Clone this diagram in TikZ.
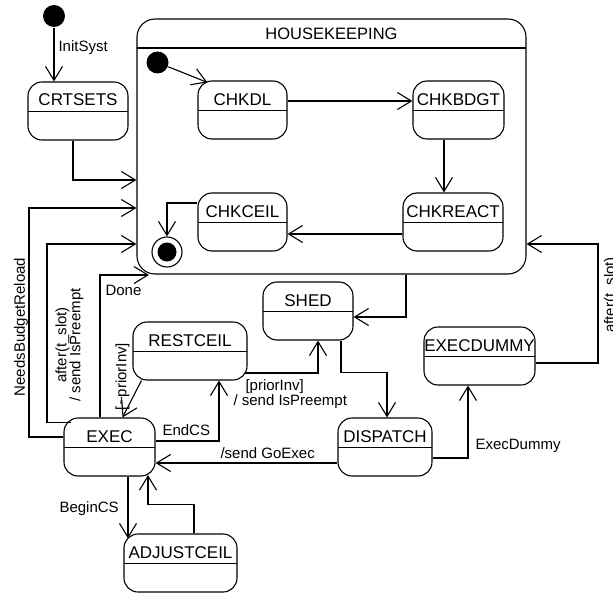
\documentclass[tikz,border=0pt]{standalone}
\usepackage{fontspec}
\setmainfont{Liberation Sans}
\usetikzlibrary{arrows.meta}
\begin{document}
\begin{tikzpicture}[x=1pt,y=-1pt,line width=1.1pt,
  arr/.style={-{Straight Barb[length=14pt,width=17pt]}},
  statefont/.style={font=\fontsize{17}{18}\selectfont},
  state/.style={draw,statefont,rounded corners=14pt,inner sep=0pt,
    minimum height=58pt,text height=24pt,text depth=34pt,
    path picture={\draw[line width=1.1pt]
      ([yshift=-29.5pt]path picture bounding box.north west) --
      ([yshift=-29.5pt]path picture bounding box.north east);}},
  hkbox/.style={draw,font=\fontsize{16.5}{18}\selectfont,rounded corners=18pt,inner sep=0pt,
    minimum width=389pt,minimum height=255pt,text height=20.5pt,text depth=234.5pt,
    path picture={\draw[line width=1.1pt]
      ([yshift=-29pt]path picture bounding box.north west) --
      ([yshift=-29pt]path picture bounding box.north east);}},
  initstate/.style={circle,fill=black,minimum size=22pt,inner sep=0pt},
  finalstate/.style={circle,draw,minimum size=30pt,inner sep=0pt,
    path picture={\fill (path picture bounding box.center) circle (9.5pt);}},
  lbl/.style={font=\fontsize{15}{14}\selectfont,inner sep=0pt}]
\useasboundingbox (0,0) rectangle (613,594);

% states
\node[initstate] (init1) at (54,16) {};
\node[state,minimum width=100pt] (crtsets) at (78,111) {CRTSETS};
\node[hkbox] (hk) at (331.5,146.5) {HOUSEKEEPING};
\node[initstate] (hinit) at (157.5,62.5) {};
\node[state,minimum width=89pt] (chkdl) at (242.5,110) {CHKDL};
\node[state,minimum width=91pt] (chkbdgt) at (458.5,110) {CHKBDGT};
\node[state,minimum width=100pt] (chkreact) at (453,222) {CHKREACT};
\node[state,minimum width=89pt] (chkceil) at (242.5,222) {CHKCEIL};
\node[finalstate] (final) at (167,252) {};
\node[state,minimum width=90pt] (shed) at (308,311) {SHED};
\node[state,minimum width=114pt] (restceil) at (190,351) {RESTCEIL};
\node[state,minimum width=111pt] (execdummy) at (479.5,356) {EXECDUMMY};
\node[state,minimum width=91pt] (exec) at (109.5,447) {EXEC};
\node[state,minimum width=94pt] (dispatch) at (385,447) {DISPATCH};
\node[state,minimum width=113pt] (adjustceil) at (180.5,563) {ADJUSTCEIL};
\coordinate (doneend) at (149,275);

% transitions inside HOUSEKEEPING
\draw[arr] (hinit) -- ([xshift=10pt,yshift=-2pt]chkdl.north west);
\draw[arr] ([yshift=9pt]chkdl.east) -- ([yshift=9pt]chkbdgt.west);
\draw[arr] ([xshift=-14.5pt]chkbdgt.south) -- ([xshift=-9pt]chkreact.north);
\draw[arr] ([yshift=-12pt]chkreact.west) -- ([yshift=-12pt]chkceil.east);
\draw[arr] ([yshift=19pt]chkceil.west) -| (final.north);

% outer transitions
\draw[arr] (init1) -- (init1 |- crtsets.north);
\draw[arr] ([xshift=-5pt]crtsets.south) |- ([yshift=-33.5pt]hk.west);
\draw[arr] ([yshift=10pt]exec.west) -| (29,208) -- ([yshift=-61.5pt]hk.west);
\draw[arr] ([xshift=8pt,yshift=-5pt]exec.north west) -| (47,244) -- ([yshift=-97.5pt]hk.west);
\draw[arr] ([xshift=-9.5pt]exec.north) |- (doneend);
\draw[arr] ([xshift=9pt]restceil.south west) -- ([xshift=-67.5pt]restceil.south |- exec.north);
\draw[arr] ([yshift=6pt]exec.east) -| ([xshift=29pt]restceil.south);
\draw[arr] ([xshift=-3pt,yshift=-22pt]restceil.east) -| ([xshift=10pt]shed.south);
\draw[arr] ([xshift=74.5pt]hk.south) |- ([yshift=-6pt]shed.east);
\draw[arr] ([xshift=33pt]shed.south) -- ++(0,32) -| ([xshift=2pt]dispatch.north);
\draw[arr] ([yshift=-16pt]dispatch.west) -- ([yshift=-16pt]exec.east);
\draw[arr] ([yshift=-11pt]dispatch.east) -| ([xshift=-11.5pt]execdummy.south);
\draw[arr] ([yshift=-7pt]execdummy.east) -| (598,244) -- ([yshift=-97.5pt]hk.east);
\draw[arr] ([xshift=18.5pt]exec.south) -- ([xshift=-52.5pt,yshift=-5pt]adjustceil.north);
\draw[arr] ([xshift=13.5pt]adjustceil.north) -- ++(0,-29) -| ([xshift=38.5pt,yshift=1.5pt]exec.south);

% transition labels
\node[lbl,anchor=base west] (lInit) at (58,52) {InitSyst};
\node[lbl,anchor=north,rotate=90] (lNeeds) at (13.5,327) {NeedsBudgetReload};
\node[lbl,anchor=north,rotate=90,align=center] (lAfterL) at (55,345) {after(t\_slot)\\/ send IsPreempt};
\node[lbl,anchor=base west] (lDone) at (105,295) {Done};
\node[lbl,anchor=north,rotate=90] (lNotPrior) at (115,376.5) {[\textasciitilde priorInv]};
\node[lbl,anchor=base west] (lEndCS) at (162,435) {EndCS};
\node[lbl,anchor=north west,align=left,font=\fontsize{15}{15}\selectfont] (lPrior) at (233,379) {\hspace*{12pt}[priorInv]\\/ send IsPreempt};
\node[lbl,anchor=base west] (lGoExec) at (220,458) {/send GoExec};
\node[lbl,anchor=base west] (lBegin) at (59,512) {BeginCS};
\node[lbl,anchor=base west] (lDummy) at (475,449) {ExecDummy};
\node[lbl,anchor=north,rotate=90] (lAfterR) at (603.5,295) {after(t\_slot)};
\end{tikzpicture}
\end{document}
